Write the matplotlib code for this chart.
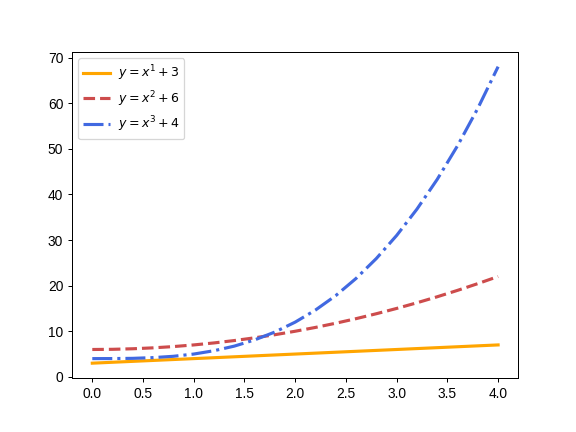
import matplotlib
matplotlib.use("Agg")
import matplotlib.pyplot as plt

plt.rcParams['font.family'] = ['Liberation Sans', 'DejaVu Sans']

# Values
x = [0.0, 0.2, 0.4, 0.6, 0.8, 1.0, 1.2, 1.4, 1.6, 1.8, 2.0,
     2.2, 2.4, 2.6, 2.8, 3.0, 3.2, 3.4, 3.6, 3.8, 4.0]
y_lin = [3.0, 3.2, 3.4, 3.6, 3.8, 4.0, 4.2, 4.4, 4.6, 4.8, 5.0,
         5.2, 5.4, 5.6, 5.8, 6.0, 6.2, 6.4, 6.6, 6.8, 7.0]
y_sq = [6.0, 6.04, 6.16, 6.36, 6.64, 7.0, 7.44, 7.96, 8.56, 9.24, 10.0,
        10.84, 11.76, 12.76, 13.84, 15.0, 16.24, 17.56, 18.96, 20.44, 22.0]
y_cube = [4.0, 4.01, 4.06, 4.22, 4.51, 5.0, 5.73, 6.74, 8.1, 9.83, 12.0,
          14.65, 17.82, 21.58, 25.95, 31.0, 36.77, 43.3, 50.66, 58.87, 68.0]

labels = [r"$y = x^1 + 3$", r"$y = x^2 + 6$", r"$y = x^3 + 4$"]

fig, ax = plt.subplots(figsize=(6.4, 4.8), dpi=90)
fig.subplots_adjust(bottom=0.125)

# Plot the three curves
ax.plot(x, y_lin, color="orange", linestyle="-", linewidth=2.5, label=labels[0])
ax.plot(x, y_sq, color="#CD4C4C", linestyle="--", linewidth=2.5, label=labels[1])
ax.plot(x, y_cube, color="royalblue", linestyle="-.", linewidth=2.5, label=labels[2])

ax.tick_params(labelsize=11)
ax.legend(loc="upper left", fontsize=10, handlelength=2.15, handletextpad=0.6)

plt.savefig("out.png")
